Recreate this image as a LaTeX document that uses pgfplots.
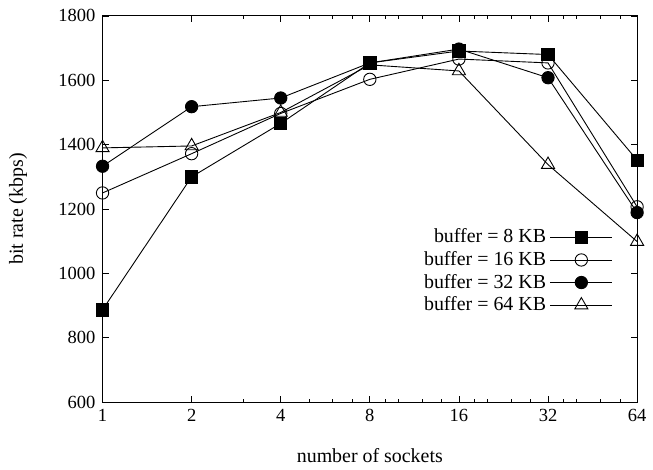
\documentclass[border=0pt]{standalone}
\usepackage{fontspec}
\setmainfont{Liberation Serif}
\usepackage{pgfplots}
\pgfplotsset{compat=1.18}
\begin{document}
\fontsize{10}{12}\selectfont
\begin{tikzpicture}
\begin{axis}[
  scale only axis,
  width=268.5pt, height=194pt,
  xmin=0, xmax=6, ymin=600, ymax=1800,
  xtick={0,1,2,3,4,5,6},
  xticklabels={1,2,4,8,16,32,64},
  minor xtick={1.585,2.3219,2.585,2.8074,3.1699,3.3219,3.585,3.8074,4.1699,4.3219,4.585,4.8074,5.1699,5.3219,5.585,5.8074},
  ytick={600,800,...,1800},
  /pgf/number format/assume math mode=true,
  /pgf/number format/1000 sep={},
  tick label style={font=\fontsize{9.3}{11}\selectfont},
  tick align=inside,
  major tick length=3pt, minor tick length=1.5pt,
  tick style={black, line width=0.4pt},
  axis line style={line width=0.5pt},
  xlabel={number of sockets},
  ylabel={bit rate (kbps)},
  xlabel style={at={(axis description cs:0.5,-0.138)}, anchor=center},
  ylabel style={at={(axis description cs:-0.158,0.5)}, anchor=center},
  legend style={at={(0.955,0.46)}, anchor=north east, draw=none, fill=none,
    inner sep=0pt, row sep=-1.2pt,
    font=\fontsize{10}{11}\selectfont},
  legend cell align=right,
  legend plot pos=right,
  legend image code/.code={\draw[mark repeat=2,mark phase=2,#1] plot coordinates {(0pt,0pt) (15.5pt,0pt) (31pt,0pt)};},
  every axis plot/.append style={black, line width=0.45pt, mark size=3.1pt},
]
% x = log2(number of sockets)
\addplot[mark=square*] coordinates {(0,887) (1,1300) (2,1466) (3,1654) (4,1691) (5,1680) (6,1352)};
\addlegendentry{buffer = 8 KB}
\addplot[mark=o, mark options={fill=white}] coordinates {(0,1250) (1,1372) (2,1497) (3,1603) (4,1666) (5,1654) (6,1207)};
\addlegendentry{buffer = 16 KB}
\addplot[mark=*] coordinates {(0,1333) (1,1518) (2,1545) (3,1654) (4,1697) (5,1608) (6,1189)};
\addlegendentry{buffer = 32 KB}
\addplot[mark=triangle, mark size=3.8pt, mark options={fill=white}] coordinates {(0,1390) (1,1396) (2,1500) (3,1648) (4,1629) (5,1338) (6,1099)};
\addlegendentry{buffer = 64 KB}
\end{axis}
\path (current axis.south west) +(-51.5pt,-33.5pt) coordinate (bbA);
\path (current axis.north east) +(6.5pt,8pt) coordinate (bbB);
\path (bbA) (bbB);
\end{tikzpicture}
\end{document}
